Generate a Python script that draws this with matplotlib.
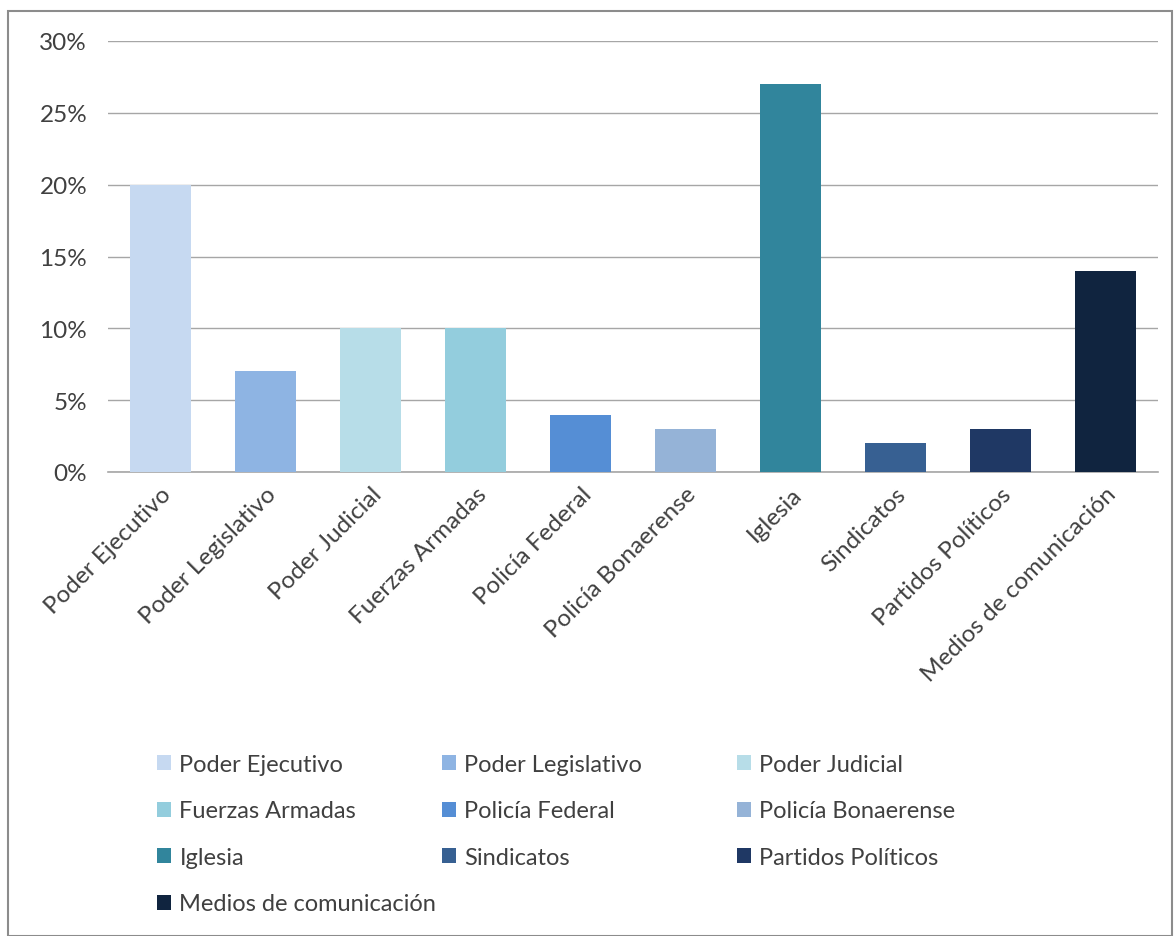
import matplotlib
matplotlib.use("Agg")
import matplotlib.pyplot as plt
from matplotlib.patches import Rectangle, Patch
from matplotlib.ticker import PercentFormatter

categories = ["Poder Ejecutivo", "Poder Legislativo", "Poder Judicial", "Fuerzas Armadas",
              "Policía Federal", "Policía Bonaerense", "Iglesia", "Sindicatos",
              "Partidos Políticos", "Medios de comunicación"]
values = [20, 7, 10, 10, 4, 3, 27, 2, 3, 14]
colors = ["#c6d9f1", "#8eb4e3", "#b7dde8", "#93cddd", "#558ed5", "#95b3d7",
          "#31859c", "#376092", "#1f3864", "#10243f"]
yticks = [0, 5, 10, 15, 20, 25, 30]

plt.rcParams['font.family'] = ['Lato', 'DejaVu Sans']
txt = "#404040"
W, H = 1175, 937

fig = plt.figure(figsize=(W/100, H/100), dpi=100)
ax = fig.add_axes([108/W, 464/H, 1050/W, 431/H])

x = range(len(categories))
ax.bar(x, values, width=0.58, color=colors, zorder=3)
ax.set_xlim(-0.5, len(categories) - 0.5)
ax.set_ylim(0, 30)
ax.set_yticks(yticks)
ax.yaxis.set_major_formatter(PercentFormatter(decimals=0))
ax.grid(axis='y', color='#a6a6a6', linewidth=1, zorder=0)
for s in ['top', 'right', 'left']:
    ax.spines[s].set_visible(False)
ax.spines['bottom'].set_color('#a6a6a6')
ax.spines['bottom'].set_linewidth(1.2)
ax.tick_params(axis='y', length=0, pad=15, labelsize=17.5, labelcolor=txt)
ax.tick_params(axis='x', length=0, pad=8, labelsize=17.5, labelcolor=txt)
ax.set_xticks(list(x))
ax.set_xticklabels(categories, rotation=45, ha='right', rotation_mode='anchor')

# legend: three columns placed like the reference (row-major order)
handles = [Patch(facecolor=c, edgecolor='none') for c in colors]
col_x = [157, 442, 737]
for c in range(3):
    idx = list(range(c, len(categories), 3))
    leg = fig.legend([handles[i] for i in idx], [categories[i] for i in idx],
                     loc='upper left', bbox_to_anchor=(col_x[c]/W, 1 - 755/H),
                     frameon=False, fontsize=17, handlelength=0.6, handleheight=0.6,
                     handletextpad=0.35, labelspacing=1.08, borderpad=0,
                     borderaxespad=0, labelcolor=txt)

# outer frame
fig.patches.append(Rectangle((8/W, 0), 1164/W, 925/H, transform=fig.transFigure,
                             fill=False, edgecolor='#8c8c8c', linewidth=1.5))

fig.savefig("out.png", dpi=100)
